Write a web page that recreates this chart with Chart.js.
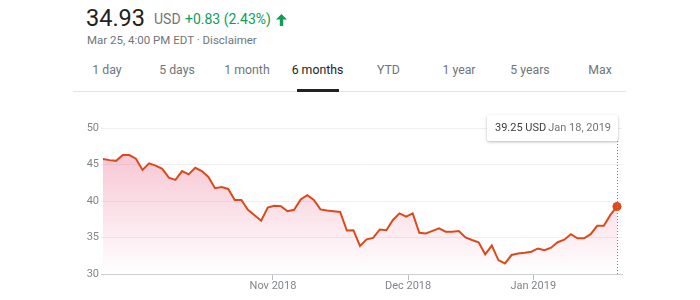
<!DOCTYPE html>
<html>
<head>
<meta charset="utf-8">
<script src="https://cdn.jsdelivr.net/npm/chart.js@4"></script>
<style>
  html, body { margin:0; padding:0; background:#fff; width:700px; height:300px; overflow:hidden; font-family: Roboto, Arial, sans-serif; }
  #wrap { position:relative; width:700px; height:300px; }
  .abs { position:absolute; white-space:nowrap; }
  #price { left:86px; top:4px; font-size:23.5px; color:#222; }
  #cur { left:154px; top:11px; font-size:14px; color:#70757a; }
  #chg { left:185px; top:11px; font-size:14px; color:#0f9d58; }
  #arrow { left:276px; top:14px; width:11px; height:12px; }
  #date { left:87px; top:33px; font-size:11.5px; color:#70757a; }
  .tab { position:absolute; top:63px; font-size:12.3px; color:#70757a; transform:translateX(-50%); }
  .tab.active { color:#222; }
  #divider { left:73px; top:91px; width:553px; height:1px; background:#e4e4e4; }
  #underline { left:297px; top:89px; width:42px; height:3px; background:#222; }
  #tip { left:487px; top:115px; width:131px; height:26px; background:#fff; box-shadow:0 1px 3px rgba(0,0,0,0.28); border-radius:2px; font-size:11px; line-height:26px; z-index:2; }
  #tip .v { position:absolute; left:8px; color:#3c4043; }
  #tip .d { position:absolute; right:7px; color:#70757a; }
  canvas { position:absolute; left:0; top:100px; }
</style>
</head>
<body>
<div id="wrap">
  <div class="abs" id="price">34.93</div>
  <div class="abs" id="cur">USD</div>
  <div class="abs" id="chg">+0.83 (2.43%)</div>
  <svg class="abs" id="arrow" viewBox="0 0 11 12"><path d="M5.5 0 L11 5.5 L7.2 5.5 L7.2 12 L3.8 12 L3.8 5.5 L0 5.5 Z" fill="#0f9d58"/></svg>
  <div class="abs" id="date">Mar 25, 4:00 PM EDT · Disclaimer</div>
  <div id="tabs"></div>
  <div class="abs" id="divider"></div>
  <div class="abs" id="underline"></div>
  <div class="abs" id="tip"><span class="v">39.25 USD</span><span class="d">Jan 18, 2019</span></div>
  <canvas id="c" width="700" height="200"></canvas>
</div>
<script>
// ---- data ----
const prices = [
  45.75, 45.6, 45.5, 46.3, 46.3, 45.8, 44.25, 45.15, 44.85, 44.4,
  43.2, 42.9, 44.1, 43.65, 44.55, 44.1, 43.3, 41.75, 41.9, 41.65,
  40.15, 40.15, 38.8, 38.05, 37.3, 39.1, 39.35, 39.3, 38.6, 38.8,
  40.2, 40.8, 40.15, 38.85, 38.7, 38.6, 38.5, 35.95, 36.0, 33.85,
  34.75, 34.95, 36.1, 36.0, 37.4, 38.3, 37.85, 38.3, 35.65, 35.55,
  35.9, 36.25, 35.8, 35.8, 35.9, 35.0, 34.65, 34.35, 32.7, 33.9,
  31.9, 31.45, 32.6, 32.8, 32.9, 33.05, 33.5, 33.25, 33.6, 34.35,
  34.7, 35.45, 34.9, 34.9, 35.45, 36.6, 36.6, 38.1, 39.25
];
const monthTickPos = [25.8, 46.3, 65.3];
const monthTickLabels = ['Nov 2018', 'Dec 2018', 'Jan 2019'];
const yTicks = [30, 35, 40, 45, 50];
const tabLabels = ['1 day', '5 days', '1 month', '6 months', 'YTD', '1 year', '5 years', 'Max'];
const tabCenters = [107, 177, 247, 317.5, 388.5, 459, 530, 600];
const activeTab = '6 months';

// tabs
const tabsEl = document.getElementById('tabs');
tabLabels.forEach((t, i) => {
  const d = document.createElement('div');
  d.className = 'tab' + (t === activeTab ? ' active' : '');
  d.style.left = tabCenters[i] + 'px';
  d.textContent = t;
  tabsEl.appendChild(d);
});

const lineColor = '#dc4a1c';
const last = prices.length - 1;

const guidePlugin = {
  id: 'guide',
  afterDatasetsDraw(chart) {
    const ctx = chart.ctx;
    const x = chart.scales.x.getPixelForValue(last);
    ctx.save();
    ctx.strokeStyle = '#888';
    ctx.lineWidth = 1;
    ctx.setLineDash([1, 2]);
    ctx.beginPath();
    ctx.moveTo(Math.round(x) + 0.5, 41);
    ctx.lineTo(Math.round(x) + 0.5, chart.chartArea.bottom);
    ctx.stroke();
    ctx.restore();
  }
};

new Chart(document.getElementById('c'), {
  type: 'line',
  data: {
    datasets: [{
      data: prices.map((v, i) => ({ x: i, y: v })),
      borderColor: lineColor,
      borderWidth: 2,
      tension: 0,
      fill: 'start',
      backgroundColor: (ctx) => {
        const ca = ctx.chart.chartArea;
        if (!ca) return 'rgba(0,0,0,0)';
        const g = ctx.chart.ctx.createLinearGradient(0, ca.top, 0, ca.bottom);
        g.addColorStop(0, 'rgba(226,40,95,0.32)');
        g.addColorStop(1, 'rgba(226,40,95,0.0)');
        return g;
      },
      pointRadius: (ctx) => ctx.dataIndex === last ? 4.5 : 0,
      pointBackgroundColor: lineColor,
      pointBorderColor: lineColor,
      pointBorderWidth: 0,
      order: 1
    }]
  },
  options: {
    responsive: false,
    animation: false,
    devicePixelRatio: 1,
    layout: { padding: { top: 28, right: 78, left: 0, bottom: 0 } },
    plugins: { legend: { display: false }, tooltip: { enabled: false } },
    scales: {
      x: {
        type: 'linear',
        min: -0.3,
        max: 78.76,
        afterFit: (s) => { s.height = 26; },
        afterBuildTicks: (s) => { s.ticks = monthTickPos.map(v => ({ value: v })); },
        grid: { drawOnChartArea: false, drawTicks: true, tickLength: 6, color: '#bdbdbd' },
        border: { display: true, color: '#cfcfcf', width: 1 },
        ticks: {
          autoSkip: false, maxRotation: 0, padding: 0,
          color: '#80868b', font: { family: 'Roboto', size: 11 },
          callback: (v, i) => monthTickLabels[i]
        }
      },
      y: {
        min: 30,
        max: 50,
        afterFit: (s) => { s.width = 101; },
        afterBuildTicks: (s) => { s.ticks = yTicks.map(v => ({ value: v })); },
        grid: { drawTicks: false, color: '#efefef' },
        border: { display: false },
        ticks: { padding: 2, color: '#80868b', font: { family: 'Roboto', size: 11 } }
      }
    }
  },
  plugins: [guidePlugin]
});
</script>
</body>
</html>
